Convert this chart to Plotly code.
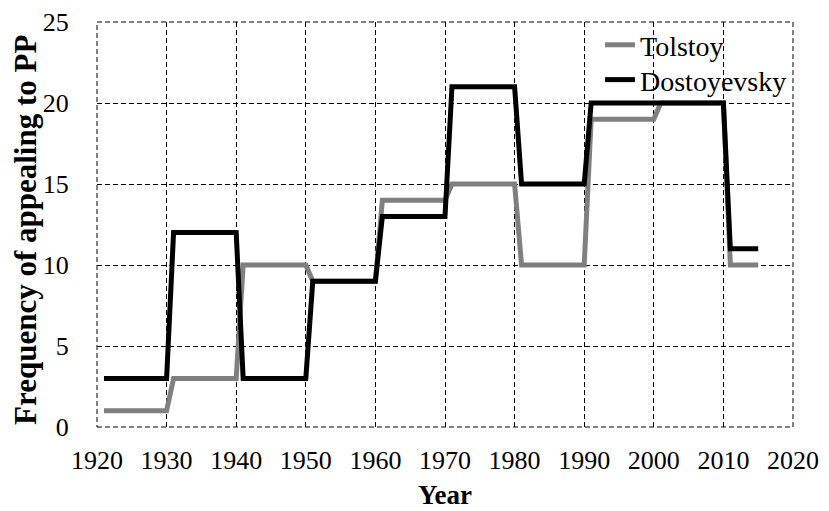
import plotly.graph_objects as go

years = [1921, 1930, 1931, 1940, 1941, 1950, 1951, 1960, 1961, 1970,
         1971, 1980, 1981, 1990, 1991, 2000, 2001, 2010, 2011, 2015]
tolstoy = [1, 1, 3, 3, 10, 10, 9, 9, 14, 14,
           15, 15, 10, 10, 19, 19, 20, 20, 10, 10]
dostoyevsky = [3, 3, 12, 12, 3, 3, 9, 9, 13, 13,
               21, 21, 15, 15, 20, 20, 20, 20, 11, 11]

font = "Liberation Serif, Times New Roman, serif"

fig = go.Figure()
fig.add_trace(go.Scatter(x=years, y=tolstoy, mode="lines", name="Tolstoy",
                         line=dict(color="#808080", width=5), legend="legend"))
fig.add_trace(go.Scatter(x=years, y=dostoyevsky, mode="lines", name="Dostoyevsky",
                         line=dict(color="#000000", width=5), legend="legend2"))

W, H = 829, 511
ML, MR, MT, MB = 97, 36, 22, 84
plot_w = W - ML - MR
plot_h = H - MT - MB

grid_dash = "5px,3px"
leg_common = dict(x=0.7227, xanchor="left", yanchor="middle",
                  bgcolor="rgba(0,0,0,0)", font=dict(size=28, family=font),
                  borderwidth=0)
fig.update_layout(
    width=W, height=H,
    margin=dict(l=ML, r=MR, t=MT, b=MB, autoexpand=False),
    paper_bgcolor="white", plot_bgcolor="white",
    font=dict(family=font, size=26, color="black"),
    showlegend=True,
    legend=dict(y=0.943, **leg_common),
    legend2=dict(y=0.857, **leg_common),
    xaxis=dict(range=[1920, 2020], dtick=10, tick0=1920,
               showgrid=True, gridcolor="black", griddash=grid_dash, gridwidth=1,
               zeroline=False, showline=False, ticks="outside", ticklen=0,
               ticklabelstandoff=10,
               tickfont=dict(size=26, family=font)),
    yaxis=dict(range=[0, 25], dtick=5, tick0=0,
               showgrid=True, gridcolor="black", griddash=grid_dash, gridwidth=1,
               zeroline=False, showline=False, ticks="outside", ticklen=0,
               ticklabelstandoff=22,
               tickfont=dict(size=26, family=font)),
)
fig.add_annotation(text="<b>Year</b>", xref="paper", yref="paper",
                   x=0.5, y=-MB / plot_h, xanchor="center", yanchor="bottom",
                   yshift=-1, showarrow=False, font=dict(size=27, family=font))
fig.add_annotation(text="<b>Frequency of appealing to PP</b>", xref="paper", yref="paper",
                   x=(26 - ML) / plot_w, y=(427 - 230) / plot_h, xanchor="center", yanchor="middle",
                   textangle=-90, showarrow=False, font=dict(size=31, family=font))
fig.add_shape(type="rect", xref="paper", yref="paper", x0=0, y0=0, x1=1, y1=1,
              line=dict(color="black", width=1, dash=grid_dash), layer="below")

fig.write_html("out.html", config={"displayModeBar": False},
               post_script="document.body.style.margin='0px';document.body.style.overflow='hidden';")
